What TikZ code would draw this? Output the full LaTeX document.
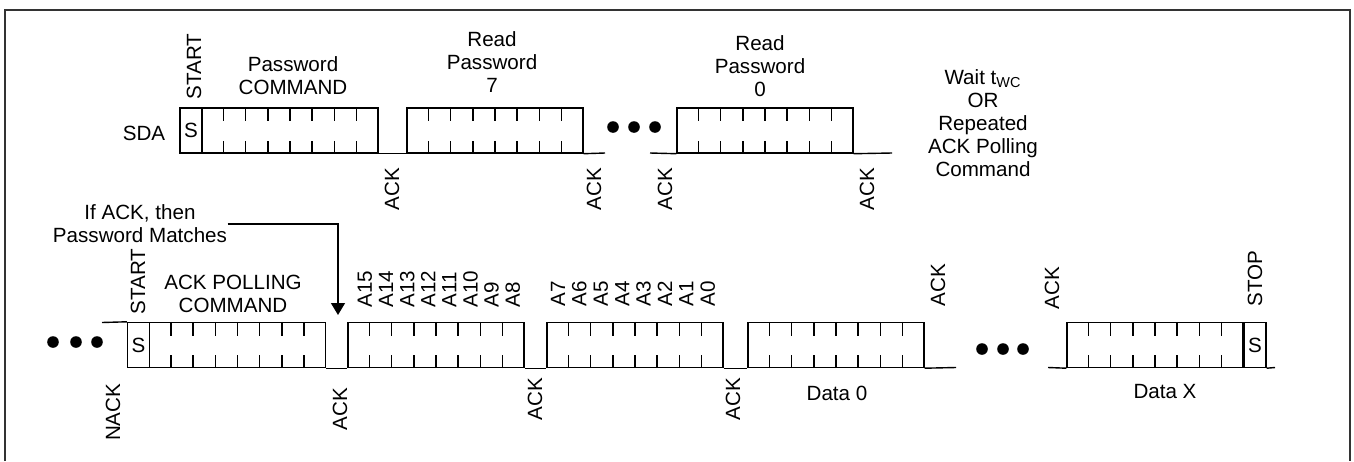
\documentclass[tikz,border=0pt]{standalone}
\usepackage{fontspec}
\setmainfont{Liberation Sans}
\usetikzlibrary{calc,arrows.meta}
\newcommand{\byteticks}[1]{%
	\foreach \i in {1,...,7}{%
		\draw ($(#1.north west)!\i/8!(#1.north east)$) -- ++(0,14);
		\draw ($(#1.south west)!\i/8!(#1.south east)$) -- ++(0,-13);
	}}
\begin{document}
\begin{tikzpicture}[x=0.5pt,y=-0.5pt,line width=0.7pt,
	font=\fontsize{10.3}{11.5}\selectfont,
	bytebox/.style={draw,minimum width=88pt,minimum height=22.5pt,inner sep=0},
	sbox/.style={draw,minimum width=11pt,minimum height=22.5pt,inner sep=0},
	lbl/.style={inner sep=0,align=center},
	vlbl/.style={inner sep=0,rotate=90},
	dot/.style={fill,circle,inner sep=0,minimum size=5.8pt}]
	\useasboundingbox (0,0) rectangle (1354,461);
	\draw[line width=1pt,black!80] (5,461) |- (1350,10) -- (1350,461);
	% SDA row
	\node[sbox] (s1) at (191,130.5) {S};
	\node[bytebox] (pwcmd) at (290,130.5) {};
	\node[bytebox] (rd7) at (495,130.5) {};
	\node[bytebox] (rd0) at (765,130.5) {};
	\byteticks{pwcmd}
	\byteticks{rd7}
	\byteticks{rd0}
	\coordinate (g1) at (605,153);
	\coordinate (g2) at (650,153);
	\coordinate (e1) at (892,153);
	\draw (pwcmd.south east) -- (rd7.south west);
	\draw (rd7.south east) -- (g1);
	\draw (g2) -- (rd0.south west);
	\draw (rd0.south east) -- (e1);
	\foreach \x [count=\k] in {613,634,655} \node[dot] (dt\k) at (\x,127) {};
	\node[lbl] (sda) at (144,133) {SDA};
	\node[vlbl,anchor=west] (start1) at (194,100) {START};
	\node[lbl] (pwlbl) at (293,76) {Password\\COMMAND};
	\node[lbl] (rd7lbl) at (492,62.5) {Read\\Password\\7};
	\node[lbl] (rd0lbl) at (760,66) {Read\\Password\\0};
	\node[lbl] (wait) at (983,123) {Wait t\textsubscript{WC}\\OR\\Repeated\\ACK Polling\\Command};
	\foreach \x [count=\k] in {392,594,665,867} \node[vlbl,anchor=east] (ackt\k) at (\x,167) {ACK};
	% polling row
	\node[sbox] (s2) at (138.5,345) {S};
	\node[bytebox] (poll) at (237.5,345) {};
	\node[bytebox] (ahi) at (436,345) {};
	\node[bytebox] (alo) at (635,345) {};
	\node[bytebox] (d0) at (836,345) {};
	\node[bytebox] (dx) at (1155,345) {};
	\node[sbox] (s3) at (1255,345) {S};
	\byteticks{poll}
	\byteticks{ahi}
	\byteticks{alo}
	\byteticks{d0}
	\byteticks{dx}
	\coordinate (n0) at (102,322.5);
	\coordinate (g3) at (956,367.5);
	\coordinate (g4) at (1048,367.5);
	\coordinate (e2) at (1275,367.5);
	\draw (n0) -- (s2.north west);
	\draw (poll.south east) -- (ahi.south west);
	\draw (ahi.south east) -- (alo.south west);
	\draw (alo.south east) -- (d0.south west);
	\draw (d0.south east) -- (g3);
	\draw (g4) -- (dx.south west);
	\draw (s3.south east) -- (e2);
	\foreach \x [count=\k] in {53,76,97} \node[dot] (dl\k) at (\x,342) {};
	\foreach \x [count=\k] in {982,1003,1023} \node[dot] (dr\k) at (\x,349) {};
	\node[lbl] (note) at (140,224) {If ACK, then\\Password Matches};
	\coordinate (tip) at (338,315);
	\draw[-{Triangle[width=7pt,length=6pt]}] (note.east) -| (tip);
	\node[vlbl,anchor=west] (start2) at (138,315) {START};
	\node[lbl] (polllbl) at (233,293.5) {ACK POLLING\\COMMAND};
	\foreach \lab [count=\k from 0] in {A15,A14,A13,A12,A11,A10,A9,A8}
		\node[vlbl,anchor=west] (hi\k) at (365+21.1*\k,308) {\lab};
	\foreach \lab [count=\k from 0] in {A7,A6,A5,A4,A3,A2,A1,A0}
		\node[vlbl,anchor=west] (lo\k) at (558+21.4*\k,307) {\lab};
	\node[vlbl,anchor=east] (nack) at (113,383) {NACK};
	\node[vlbl,anchor=east] (ackb1) at (340,387) {ACK};
	\node[vlbl,anchor=east] (ackb2) at (535,377) {ACK};
	\node[vlbl,anchor=east] (ackb3) at (733,377) {ACK};
	\node[vlbl,anchor=west] (acku1) at (938,307) {ACK};
	\node[vlbl,anchor=west] (acku2) at (1052,310) {ACK};
	\node[vlbl,anchor=west] (stop) at (1255,307) {STOP};
	\node[lbl] (d0lbl) at (837,393) {Data 0};
	\node[lbl] (dxlbl) at (1165,392) {Data X};
\end{tikzpicture}
\end{document}
